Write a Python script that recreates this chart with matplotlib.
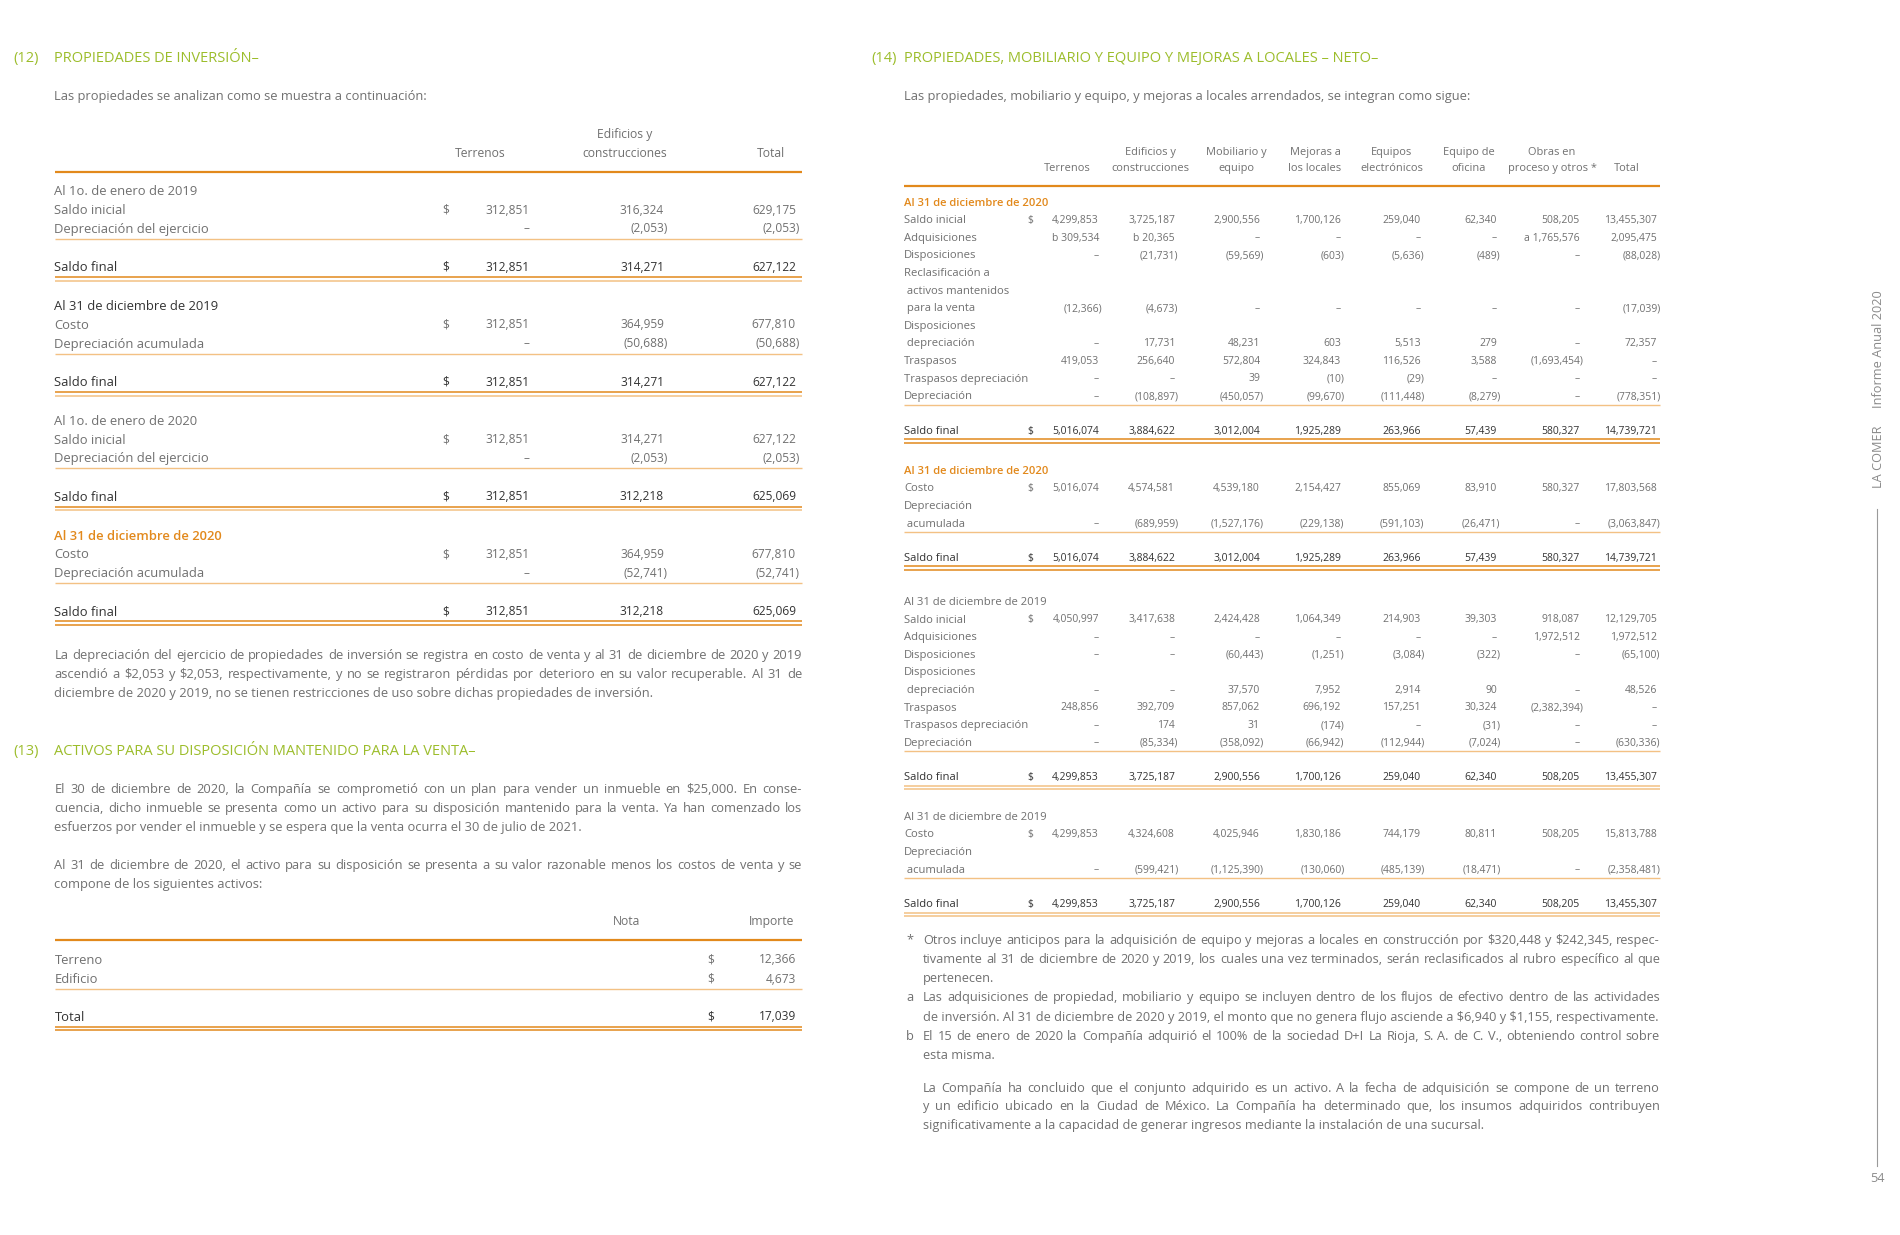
import matplotlib.pyplot as plt

# ---- data -------------------------------------------------------------
# (12) propiedades de inversion
cols12 = ["Terrenos", "Edificios y\nconstrucciones", "Total"]
blocks12 = [
    ("Al 1o. de enero de 2019", "plain",
     [("Saldo inicial", [312851, 316324, 629175]),
      ("Depreciación del ejercicio", [None, -2053, -2053])],
     [312851, 314271, 627122]),
    ("Al 31 de diciembre de 2019", "dark",
     [("Costo", [312851, 364959, 677810]),
      ("Depreciación acumulada", [None, -50688, -50688])],
     [312851, 314271, 627122]),
    ("Al 1o. de enero de 2020", "plain",
     [("Saldo inicial", [312851, 314271, 627122]),
      ("Depreciación del ejercicio", [None, -2053, -2053])],
     [312851, 312218, 625069]),
    ("Al 31 de diciembre de 2020", "orange",
     [("Costo", [312851, 364959, 677810]),
      ("Depreciación acumulada", [None, -52741, -52741])],
     [312851, 312218, 625069]),
]

# (13) activos mantenidos para la venta
items13 = ["Terreno", "Edificio"]
values13 = [12366, 4673]
total13 = 17039

# (14) propiedades, mobiliario y equipo
cols14 = ["Terrenos", "Edificios y\nconstrucciones", "Mobiliario y\nequipo",
          "Mejoras a\nlos locales", "Equipos\nelectrónicos", "Equipo de\noficina",
          "Obras en\nproceso y otros *", "Total"]
mov2020 = [
    ("Saldo inicial", [4299853, 3725187, 2900556, 1700126, 259040, 62340, 508205, 13455307]),
    ("Adquisiciones", [("b", 309534), ("b", 20365), None, None, None, None, ("a", 1765576), 2095475]),
    ("Disposiciones", [None, -21731, -59569, -603, -5636, -489, None, -88028]),
    ("Reclasificación a\n activos mantenidos\n para la venta", [-12366, -4673, None, None, None, None, None, -17039]),
    ("Disposiciones\n depreciación", [None, 17731, 48231, 603, 5513, 279, None, 72357]),
    ("Traspasos", [419053, 256640, 572804, 324843, 116526, 3588, -1693454, None]),
    ("Traspasos depreciación", [None, None, 39, -10, -29, None, None, None]),
    ("Depreciación", [None, -108897, -450057, -99670, -111448, -8279, None, -778351]),
]
fin2020 = [5016074, 3884622, 3012004, 1925289, 263966, 57439, 580327, 14739721]
bal2020 = [
    ("Costo", [5016074, 4574581, 4539180, 2154427, 855069, 83910, 580327, 17803568]),
    ("Depreciación\n acumulada", [None, -689959, -1527176, -229138, -591103, -26471, None, -3063847]),
]
mov2019 = [
    ("Saldo inicial", [4050997, 3417638, 2424428, 1064349, 214903, 39303, 918087, 12129705]),
    ("Adquisiciones", [None, None, None, None, None, None, 1972512, 1972512]),
    ("Disposiciones", [None, None, -60443, -1251, -3084, -322, None, -65100]),
    ("Disposiciones\n depreciación", [None, None, 37570, 7952, 2914, 90, None, 48526]),
    ("Traspasos", [248856, 392709, 857062, 696192, 157251, 30324, -2382394, None]),
    ("Traspasos depreciación", [None, 174, 31, -174, None, -31, None, None]),
    ("Depreciación", [None, -85334, -358092, -66942, -112944, -7024, None, -630336]),
]
fin2019 = [4299853, 3725187, 2900556, 1700126, 259040, 62340, 508205, 13455307]
bal2019 = [
    ("Costo", [4299853, 4324608, 4025946, 1830186, 744179, 80811, 508205, 15813788]),
    ("Depreciación\n acumulada", [None, -599421, -1125390, -130060, -485139, -18471, None, -2358481]),
]

par12 = ["La depreciación del ejercicio de propiedades de inversión se registra en costo de venta y al 31 de diciembre de 2020 y 2019",
         "ascendió a $2,053 y $2,053, respectivamente, y no se registraron pérdidas por deterioro en su valor recuperable. Al 31 de",
         "diciembre de 2020 y 2019, no se tienen restricciones de uso sobre dichas propiedades de inversión."]
par13a = ["El 30 de diciembre de 2020, la Compañía se comprometió con un plan para vender un inmueble en $25,000. En conse-",
          "cuencia, dicho inmueble se presenta como un activo para su disposición mantenido para la venta. Ya han comenzado los",
          "esfuerzos por vender el inmueble y se espera que la venta ocurra el 30 de julio de 2021."]
par13b = ["Al 31 de diciembre de 2020, el activo para su disposición se presenta a su valor razonable menos los costos de venta y se",
          "compone de los siguientes activos:"]
notes14 = [
    ("*", ["Otros incluye anticipos para la adquisición de equipo y mejoras a locales en construcción por $320,448 y $242,345, respec-",
           "tivamente al 31 de diciembre de 2020 y 2019, los cuales una vez terminados, serán reclasificados al rubro específico al que",
           "pertenecen."]),
    ("a", ["Las adquisiciones de propiedad, mobiliario y equipo se incluyen dentro de los flujos de efectivo dentro de las actividades",
           "de inversión. Al 31 de diciembre de 2020 y 2019, el monto que no genera flujo asciende a $6,940 y $1,155, respectivamente."]),
    ("b", ["El 15 de enero de 2020 la Compañía adquirió el 100% de la sociedad D+I La Rioja, S. A. de C. V., obteniendo control sobre",
           "esta misma."]),
]
par14 = ["La Compañía ha concluido que el conjunto adquirido es un activo. A la fecha de adquisición se compone de un terreno",
         "y un edificio ubicado en la Ciudad de México. La Compañía ha determinado que, los insumos adquiridos contribuyen",
         "significativamente a la capacidad de generar ingresos mediante la instalación de una sucursal."]

# ---- styles -----------------------------------------------------------
GREEN = '#9cbd2b'
ORANGE = '#e2891c'
LIGHT = '#f3c184'
GRAY = '#707070'
DARK = '#333333'
SIDE = '#8a8a8a'

plt.rcParams['font.family'] = ['Open Sans', 'DejaVu Sans']

fig = plt.figure(figsize=(19, 12.35), dpi=100)
ax = fig.add_axes([0, 0, 1, 1])
ax.set_xlim(0, 1900)
ax.set_ylim(1235, 0)
ax.axis('off')
renderer = fig.canvas.get_renderer()


def txt(x, y, s, size=9, color=GRAY, ha='left', weight='normal', **kw):
    # y is the visual middle of the lowercase letters -> put the baseline below it
    base = y + 0.28 * size * 100 / 72
    return ax.text(x, base, s, fontsize=size, color=color, ha=ha, va='baseline',
                   fontweight=weight, parse_math=False, **kw)


def hline(x0, x1, y, color=ORANGE, lw=1.0):
    ax.plot([x0, x1], [y, y], color=color, lw=lw, solid_capstyle='butt')


def fmt(v):
    if v is None:
        return '–'
    if isinstance(v, tuple):
        return v[0] + ' ' + fmt(v[1])
    if v < 0:
        return '(' + format(-v, ',') + ')'
    return format(v, ',')


def num(x, y, v, size, color, weight='normal', paren=4):
    s = fmt(v)
    if s.startswith('('):
        x = x + paren
    txt(x, y, s, size=size, color=color, ha='right', weight=weight)


def paragraph(x0, x1, y, lines, step, size=9.3, color=GRAY):
    for i, line in enumerate(lines):
        yy = y + i * step
        words = line.split(' ')
        if i == len(lines) - 1 or len(words) == 1:
            txt(x0, yy, line, size=size, color=color)
            continue
        objs = [txt(0, yy, w, size=size, color=color) for w in words]
        widths = [o.get_window_extent(renderer).width for o in objs]
        gap = (x1 - x0 - sum(widths)) / (len(words) - 1)
        x = x0
        for o, w in zip(objs, widths):
            o.set_x(x)
            x += w + gap


# ---- section 12 -------------------------------------------------------
L0, L1 = 54.5, 802
LAB = 9.4
NUM = 8.6
HEAD = 10.5
txt(13, 58, '(12)', size=HEAD, color=GREEN)
txt(L0, 58, 'PROPIEDADES DE INVERSIÓN–', size=HEAD, color=GREEN)
txt(L0, 96, 'Las propiedades se analizan como se muestra a continuación:', size=9.3)

xs12 = [529.5, 664, 796]
hx12 = [480, 625, 771]
for h, x in zip(cols12, hx12):
    parts = h.split('\n')
    for k, p in enumerate(reversed(parts)):
        txt(x, 154 - k * 19.5, p, size=8.7, ha='center')
hline(L0, L1, 172, ORANGE, 1.6)

STEP12 = 18.8
y = 172 + 19.5
for head, kind, rows, final in blocks12:
    hc = {'plain': GRAY, 'dark': DARK, 'orange': ORANGE}[kind]
    hw = 'semibold' if kind == 'orange' else 'normal'
    txt(L0, y, head, size=LAB, color=hc, weight=hw)
    for i, (lab, vals) in enumerate(rows):
        y += STEP12
        txt(L0, y, lab, size=LAB)
        if i == 0:
            txt(446, y, '$', size=NUM, ha='center')
        for x, v in zip(xs12, vals):
            num(x, y, v, NUM, GRAY)
    hline(L0, L1, y + 9.7, LIGHT, 1.0)
    y += 38.4
    txt(L0, y, 'Saldo final', size=LAB, color=DARK)
    txt(446, y, '$', size=NUM, color=DARK, ha='center')
    for x, v in zip(xs12, final):
        num(x, y, v, NUM, DARK)
    hline(L0, L1, y + 9.5, ORANGE, 1.1)
    hline(L0, L1, y + 13.3, LIGHT if kind != 'orange' else ORANGE, 1.1)
    y += 38.8

paragraph(L0, L1, 655.5, par12, 18.8)

# ---- section 13 -------------------------------------------------------
txt(13, 751, '(13)', size=HEAD, color=GREEN)
txt(L0, 751, 'ACTIVOS PARA SU DISPOSICIÓN MANTENIDO PARA LA VENTA–', size=HEAD, color=GREEN)
paragraph(L0, L1, 789, par13a, 19.2)
paragraph(L0, L1, 865.5, par13b, 19.2)

txt(626.5, 922, 'Nota', size=8.7, ha='center')
txt(794, 922, 'Importe', size=8.7, ha='right')
hline(L0, L1, 940, ORANGE, 1.6)
y = 960
for lab, v in zip(items13, values13):
    txt(L0, y, lab, size=LAB)
    txt(711, y, '$', size=NUM, ha='center')
    num(796, y, v, NUM, GRAY)
    y += 19.2
hline(L0, L1, y - 9.5, LIGHT, 1.0)
y += 18.6
txt(L0, y, 'Total', size=LAB, color=DARK)
txt(711, y, '$', size=NUM, color=DARK, ha='center')
num(796, y, total13, NUM, DARK)
hline(L0, L1, y + 9.5, ORANGE, 1.1)
hline(L0, L1, y + 13.3, ORANGE, 1.1)

# ---- section 14 -------------------------------------------------------
R0, R1 = 904, 1660
txt(871, 58, '(14)', size=HEAD, color=GREEN)
txt(R0, 58, 'PROPIEDADES, MOBILIARIO Y EQUIPO Y MEJORAS A LOCALES – NETO–', size=HEAD, color=GREEN)
txt(R0, 96, 'Las propiedades, mobiliario y equipo, y mejoras a locales arrendados, se integran como sigue:', size=9.3)

xs14 = [1099, 1175, 1260, 1341, 1421, 1497, 1580, 1657]
hx14 = [1067.5, 1150, 1236, 1315, 1392, 1468.5, 1552, 1627]
for h, x in zip(cols14, hx14):
    parts = h.split('\n')
    for k, p in enumerate(reversed(parts)):
        txt(x, 167.5 - k * 15.8, p, size=7.9, ha='center')
hline(R0, R1, 185.5, ORANGE, 1.6)

STEP14 = 17.6
SZ = 8.1
SZN = 7.5
DOLLAR = 1030


def block14(y, head, hcolor, hweight, rows, final, dbl):
    txt(R0, y, head, size=SZ, color=hcolor, weight=hweight)
    for i, (lab, vals) in enumerate(rows):
        parts = lab.split('\n')
        for p in parts:
            y += STEP14
            txt(R0, y, p, size=SZ)
        if i == 0:
            txt(DOLLAR, y, '$', size=SZN, ha='center')
        for x, v in zip(xs14, vals):
            num(x, y, v, SZN, GRAY, paren=3.5)
    hline(R0, R1, y + 8.5, LIGHT, 1.0)
    y += 34.5
    txt(R0, y, 'Saldo final', size=SZ, color=DARK)
    txt(DOLLAR, y, '$', size=SZN, color=DARK, ha='center')
    for x, v in zip(xs14, final):
        num(x, y, v, SZN, DARK, paren=3.5)
    hline(R0, R1, y + 8.5, dbl[0], 1.1)
    hline(R0, R1, y + 12.2, dbl[1], 1.1)
    return y


y = block14(202.5, 'Al 31 de diciembre de 2020', ORANGE, 'semibold', mov2020, fin2020, (ORANGE, ORANGE))
y = block14(y + 40, 'Al 31 de diciembre de 2020', ORANGE, 'semibold', bal2020, fin2020, (ORANGE, ORANGE))
y = block14(y + 44, 'Al 31 de diciembre de 2019', GRAY, 'normal', mov2019, fin2019, (LIGHT, LIGHT))
y = block14(y + 39.5, 'Al 31 de diciembre de 2019', GRAY, 'normal', bal2019, fin2019, (LIGHT, LIGHT))

y = 940
for mark, lines in notes14:
    txt(906, y, mark, size=9.2)
    paragraph(923, R1, y, lines, 19.3, size=9.2)
    y += 19.3 * len(lines)
paragraph(923, R1, 1088, par14, 18.5, size=9.2)

# ---- side strip -------------------------------------------------------
ax.text(1879, 349, 'Informe Anual 2020', fontsize=9.2, color=SIDE, ha='center', va='center', rotation=90)
ax.text(1879, 457, 'LA COMER', fontsize=9.2, color=SIDE, ha='center', va='center', rotation=90)
ax.plot([1877, 1877], [509, 1166], color='#9a9a9a', lw=0.8)
ax.text(1877, 1178, '54', fontsize=9.2, color=SIDE, ha='center', va='center')

fig.savefig('out.png', dpi=100, facecolor='white')
